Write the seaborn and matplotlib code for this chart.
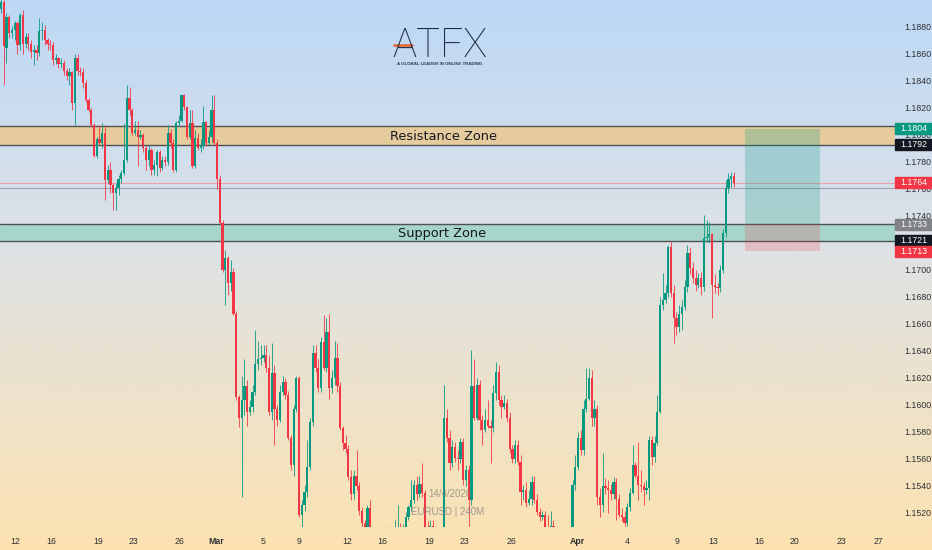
import numpy as np
import pandas as pd
import seaborn as sns
import matplotlib.pyplot as plt
import matplotlib.transforms as mtransforms
from matplotlib.colors import LinearSegmentedColormap
from matplotlib.patches import Rectangle
from matplotlib.lines import Line2D

# EURUSD 4h candles
opens = [
    1.1893, 1.1898, 1.1864, 1.1887, 1.1875, 1.1877, 1.1882, 1.1866, 1.1888, 1.1867,
    1.1872, 1.1867, 1.1861, 1.1862, 1.1860, 1.1876, 1.1877, 1.1870, 1.1867, 1.1866,
    1.1855, 1.1856, 1.1852, 1.1853, 1.1847, 1.1843, 1.1846, 1.1823, 1.1856, 1.1847,
    1.1846, 1.1838, 1.1825, 1.1818, 1.1807, 1.1784, 1.1796, 1.1793, 1.1801, 1.1766,
    1.1773, 1.1762, 1.1756, 1.1760, 1.1767, 1.1771, 1.1781, 1.1827, 1.1818, 1.1801,
    1.1803, 1.1798, 1.1799, 1.1790, 1.1781, 1.1788, 1.1773, 1.1777, 1.1787, 1.1775,
    1.1781, 1.1779, 1.1801, 1.1793, 1.1773, 1.1808, 1.1810, 1.1829, 1.1820, 1.1798,
    1.1808, 1.1776, 1.1797, 1.1790, 1.1792, 1.1809, 1.1793, 1.1798, 1.1818, 1.1793,
    1.1767, 1.1734, 1.1699, 1.1708, 1.1690, 1.1698, 1.1667, 1.1605, 1.1590, 1.1603,
    1.1613, 1.1594, 1.1598, 1.1609, 1.1630, 1.1633, 1.1634, 1.1636, 1.1627, 1.1594,
    1.1623, 1.1596, 1.1588, 1.1609, 1.1616, 1.1607, 1.1575, 1.1555, 1.1596, 1.1619,
    1.1518, 1.1525, 1.1535, 1.1553, 1.1587, 1.1638, 1.1627, 1.1612, 1.1646, 1.1627,
    1.1653, 1.1612, 1.1619, 1.1634, 1.1613, 1.1582, 1.1571, 1.1567, 1.1546, 1.1533,
    1.1547, 1.1539, 1.1521, 1.1512, 1.1505, 1.1523, 1.1503, 1.1496, 1.1501, 1.1492,
    1.1498, 1.1490, 1.1501, 1.1505, 1.1499, 1.1504, 1.1507, 1.1503, 1.1508, 1.1516,
    1.1524, 1.1529, 1.1540, 1.1533, 1.1541, 1.1534, 1.1509, 1.1507, 1.1510, 1.1505,
    1.1499, 1.1503, 1.1498, 1.1590, 1.1575, 1.1556, 1.1568, 1.1560, 1.1559, 1.1572,
    1.1544, 1.1551, 1.1529, 1.1613, 1.1590, 1.1614, 1.1588, 1.1581, 1.1588, 1.1584,
    1.1582, 1.1608, 1.1624, 1.1603, 1.1598, 1.1601, 1.1590, 1.1567, 1.1559, 1.1570,
    1.1557, 1.1535, 1.1536, 1.1527, 1.1530, 1.1542, 1.1529, 1.1520, 1.1516, 1.1518,
    1.1507, 1.1505, 1.1510, 1.1503, 1.1496, 1.1499, 1.1492, 1.1501, 1.1498, 1.1503,
    1.1540, 1.1553, 1.1575, 1.1566, 1.1596, 1.1604, 1.1619, 1.1590, 1.1596, 1.1531,
    1.1525, 1.1539, 1.1538, 1.1536, 1.1533, 1.1542, 1.1530, 1.1518, 1.1516, 1.1512,
    1.1524, 1.1534, 1.1555, 1.1547, 1.1540, 1.1539, 1.1536, 1.1538, 1.1573, 1.1561,
    1.1571, 1.1594, 1.1673, 1.1677, 1.1682, 1.1716, 1.1682, 1.1664, 1.1657, 1.1667,
    1.1672, 1.1687, 1.1712, 1.1701, 1.1693, 1.1688, 1.1693, 1.1687, 1.1723, 1.1724,
    1.1726, 1.1688, 1.1687, 1.1686, 1.1699, 1.1727, 1.1760, 1.1767, 1.1769,
]
highs = [
    1.1901, 1.1899, 1.1890, 1.1888, 1.1880, 1.1884, 1.1884, 1.1890, 1.1892, 1.1875,
    1.1875, 1.1870, 1.1866, 1.1866, 1.1886, 1.1883, 1.1881, 1.1871, 1.1870, 1.1868,
    1.1859, 1.1857, 1.1856, 1.1855, 1.1849, 1.1849, 1.1847, 1.1859, 1.1859, 1.1850,
    1.1849, 1.1840, 1.1827, 1.1819, 1.1808, 1.1798, 1.1807, 1.1808, 1.1807, 1.1777,
    1.1779, 1.1764, 1.1764, 1.1770, 1.1773, 1.1808, 1.1836, 1.1835, 1.1819, 1.1810,
    1.1810, 1.1803, 1.1801, 1.1792, 1.1792, 1.1790, 1.1781, 1.1788, 1.1788, 1.1784,
    1.1784, 1.1807, 1.1804, 1.1796, 1.1810, 1.1814, 1.1830, 1.1830, 1.1821, 1.1818,
    1.1818, 1.1803, 1.1801, 1.1796, 1.1821, 1.1810, 1.1803, 1.1829, 1.1829, 1.1796,
    1.1770, 1.1736, 1.1714, 1.1710, 1.1707, 1.1701, 1.1669, 1.1607, 1.1621, 1.1633,
    1.1618, 1.1603, 1.1614, 1.1655, 1.1647, 1.1644, 1.1644, 1.1644, 1.1636, 1.1645,
    1.1629, 1.1599, 1.1614, 1.1621, 1.1619, 1.1610, 1.1577, 1.1599, 1.1621, 1.1621,
    1.1529, 1.1540, 1.1573, 1.1590, 1.1644, 1.1644, 1.1633, 1.1650, 1.1666, 1.1664,
    1.1667, 1.1625, 1.1647, 1.1645, 1.1616, 1.1584, 1.1577, 1.1570, 1.1551, 1.1551,
    1.1566, 1.1542, 1.1524, 1.1514, 1.1525, 1.1529, 1.1508, 1.1507, 1.1504, 1.1503,
    1.1501, 1.1505, 1.1510, 1.1508, 1.1514, 1.1525, 1.1512, 1.1511, 1.1520, 1.1525,
    1.1544, 1.1544, 1.1547, 1.1547, 1.1556, 1.1536, 1.1513, 1.1514, 1.1514, 1.1508,
    1.1507, 1.1507, 1.1614, 1.1596, 1.1581, 1.1573, 1.1572, 1.1566, 1.1575, 1.1575,
    1.1555, 1.1555, 1.1640, 1.1633, 1.1619, 1.1618, 1.1592, 1.1596, 1.1603, 1.1588,
    1.1614, 1.1631, 1.1629, 1.1607, 1.1607, 1.1604, 1.1594, 1.1570, 1.1573, 1.1573,
    1.1562, 1.1540, 1.1542, 1.1536, 1.1547, 1.1547, 1.1533, 1.1523, 1.1521, 1.1521,
    1.1518, 1.1521, 1.1514, 1.1507, 1.1504, 1.1503, 1.1507, 1.1505, 1.1508, 1.1544,
    1.1562, 1.1579, 1.1581, 1.1603, 1.1627, 1.1627, 1.1625, 1.1603, 1.1599, 1.1538,
    1.1564, 1.1545, 1.1544, 1.1541, 1.1546, 1.1545, 1.1533, 1.1523, 1.1521, 1.1527,
    1.1538, 1.1570, 1.1557, 1.1572, 1.1551, 1.1542, 1.1544, 1.1576, 1.1576, 1.1576,
    1.1607, 1.1679, 1.1697, 1.1688, 1.1718, 1.1721, 1.1688, 1.1668, 1.1673, 1.1677,
    1.1692, 1.1718, 1.1716, 1.1705, 1.1699, 1.1697, 1.1698, 1.1740, 1.1736, 1.1735,
    1.1727, 1.1696, 1.1690, 1.1703, 1.1730, 1.1766, 1.1771, 1.1772, 1.1772,
]
lows = [
    1.1890, 1.1836, 1.1853, 1.1871, 1.1871, 1.1870, 1.1859, 1.1862, 1.1859, 1.1864,
    1.1862, 1.1856, 1.1851, 1.1855, 1.1858, 1.1870, 1.1866, 1.1862, 1.1862, 1.1851,
    1.1852, 1.1849, 1.1849, 1.1844, 1.1840, 1.1836, 1.1818, 1.1807, 1.1844, 1.1843,
    1.1834, 1.1824, 1.1816, 1.1805, 1.1783, 1.1782, 1.1792, 1.1790, 1.1751, 1.1764,
    1.1756, 1.1744, 1.1744, 1.1755, 1.1764, 1.1770, 1.1779, 1.1814, 1.1799, 1.1799,
    1.1776, 1.1796, 1.1787, 1.1773, 1.1776, 1.1770, 1.1770, 1.1769, 1.1772, 1.1773,
    1.1776, 1.1777, 1.1790, 1.1772, 1.1772, 1.1806, 1.1809, 1.1818, 1.1796, 1.1796,
    1.1775, 1.1775, 1.1788, 1.1787, 1.1789, 1.1791, 1.1792, 1.1794, 1.1792, 1.1759,
    1.1733, 1.1698, 1.1673, 1.1681, 1.1684, 1.1666, 1.1603, 1.1583, 1.1531, 1.1592,
    1.1584, 1.1592, 1.1594, 1.1607, 1.1625, 1.1629, 1.1631, 1.1624, 1.1592, 1.1588,
    1.1570, 1.1584, 1.1587, 1.1607, 1.1604, 1.1573, 1.1551, 1.1547, 1.1594, 1.1516,
    1.1509, 1.1521, 1.1531, 1.1551, 1.1584, 1.1624, 1.1609, 1.1609, 1.1625, 1.1624,
    1.1604, 1.1608, 1.1614, 1.1609, 1.1581, 1.1566, 1.1564, 1.1544, 1.1529, 1.1530,
    1.1536, 1.1518, 1.1509, 1.1503, 1.1503, 1.1499, 1.1492, 1.1490, 1.1487, 1.1490,
    1.1486, 1.1487, 1.1499, 1.1496, 1.1496, 1.1501, 1.1499, 1.1501, 1.1504, 1.1514,
    1.1521, 1.1527, 1.1529, 1.1531, 1.1531, 1.1507, 1.1503, 1.1504, 1.1499, 1.1496,
    1.1496, 1.1493, 1.1496, 1.1572, 1.1551, 1.1553, 1.1557, 1.1551, 1.1556, 1.1540,
    1.1539, 1.1507, 1.1525, 1.1588, 1.1588, 1.1581, 1.1570, 1.1579, 1.1582, 1.1556,
    1.1579, 1.1603, 1.1599, 1.1590, 1.1596, 1.1587, 1.1564, 1.1556, 1.1556, 1.1555,
    1.1525, 1.1529, 1.1524, 1.1525, 1.1525, 1.1527, 1.1518, 1.1513, 1.1514, 1.1504,
    1.1503, 1.1503, 1.1499, 1.1493, 1.1492, 1.1488, 1.1490, 1.1495, 1.1496, 1.1501,
    1.1536, 1.1551, 1.1562, 1.1562, 1.1594, 1.1603, 1.1584, 1.1584, 1.1525, 1.1516,
    1.1520, 1.1533, 1.1519, 1.1529, 1.1530, 1.1514, 1.1516, 1.1513, 1.1510, 1.1510,
    1.1521, 1.1533, 1.1545, 1.1529, 1.1535, 1.1525, 1.1533, 1.1529, 1.1555, 1.1557,
    1.1570, 1.1593, 1.1670, 1.1675, 1.1679, 1.1679, 1.1645, 1.1651, 1.1653, 1.1655,
    1.1670, 1.1683, 1.1696, 1.1690, 1.1684, 1.1686, 1.1681, 1.1684, 1.1720, 1.1719,
    1.1664, 1.1682, 1.1681, 1.1683, 1.1697, 1.1724, 1.1756, 1.1761, 1.1761,
]
closes = [
    1.1898, 1.1865, 1.1887, 1.1875, 1.1877, 1.1882, 1.1866, 1.1888, 1.1867, 1.1872,
    1.1867, 1.1861, 1.1862, 1.1860, 1.1876, 1.1877, 1.1870, 1.1867, 1.1866, 1.1855,
    1.1856, 1.1852, 1.1853, 1.1847, 1.1843, 1.1846, 1.1823, 1.1856, 1.1847, 1.1846,
    1.1838, 1.1825, 1.1818, 1.1807, 1.1784, 1.1796, 1.1793, 1.1801, 1.1766, 1.1773,
    1.1762, 1.1756, 1.1760, 1.1767, 1.1771, 1.1781, 1.1827, 1.1818, 1.1801, 1.1803,
    1.1798, 1.1799, 1.1790, 1.1781, 1.1788, 1.1773, 1.1777, 1.1787, 1.1775, 1.1781,
    1.1779, 1.1801, 1.1793, 1.1773, 1.1808, 1.1810, 1.1829, 1.1820, 1.1798, 1.1808,
    1.1776, 1.1797, 1.1790, 1.1792, 1.1809, 1.1793, 1.1798, 1.1818, 1.1793, 1.1767,
    1.1734, 1.1699, 1.1708, 1.1690, 1.1698, 1.1667, 1.1605, 1.1590, 1.1603, 1.1613,
    1.1594, 1.1598, 1.1609, 1.1630, 1.1633, 1.1634, 1.1636, 1.1627, 1.1594, 1.1623,
    1.1596, 1.1588, 1.1609, 1.1616, 1.1607, 1.1575, 1.1555, 1.1596, 1.1619, 1.1518,
    1.1525, 1.1535, 1.1553, 1.1587, 1.1638, 1.1627, 1.1612, 1.1646, 1.1627, 1.1653,
    1.1612, 1.1619, 1.1634, 1.1613, 1.1582, 1.1571, 1.1567, 1.1546, 1.1533, 1.1547,
    1.1539, 1.1521, 1.1512, 1.1505, 1.1523, 1.1503, 1.1496, 1.1501, 1.1492, 1.1498,
    1.1490, 1.1501, 1.1505, 1.1499, 1.1504, 1.1507, 1.1503, 1.1508, 1.1516, 1.1524,
    1.1529, 1.1540, 1.1533, 1.1541, 1.1534, 1.1509, 1.1507, 1.1510, 1.1505, 1.1499,
    1.1503, 1.1498, 1.1590, 1.1575, 1.1556, 1.1568, 1.1560, 1.1559, 1.1572, 1.1544,
    1.1551, 1.1529, 1.1613, 1.1590, 1.1614, 1.1588, 1.1581, 1.1588, 1.1584, 1.1582,
    1.1608, 1.1624, 1.1603, 1.1598, 1.1601, 1.1590, 1.1567, 1.1559, 1.1570, 1.1557,
    1.1535, 1.1536, 1.1527, 1.1530, 1.1542, 1.1529, 1.1520, 1.1516, 1.1518, 1.1507,
    1.1505, 1.1510, 1.1503, 1.1496, 1.1499, 1.1492, 1.1501, 1.1498, 1.1503, 1.1540,
    1.1553, 1.1575, 1.1566, 1.1596, 1.1604, 1.1619, 1.1590, 1.1596, 1.1531, 1.1525,
    1.1539, 1.1538, 1.1536, 1.1533, 1.1542, 1.1530, 1.1518, 1.1516, 1.1512, 1.1524,
    1.1534, 1.1555, 1.1547, 1.1540, 1.1539, 1.1536, 1.1538, 1.1573, 1.1561, 1.1571,
    1.1594, 1.1673, 1.1677, 1.1682, 1.1716, 1.1682, 1.1664, 1.1657, 1.1667, 1.1672,
    1.1687, 1.1712, 1.1701, 1.1693, 1.1688, 1.1693, 1.1687, 1.1723, 1.1724, 1.1726,
    1.1688, 1.1687, 1.1686, 1.1699, 1.1727, 1.1760, 1.1767, 1.1769, 1.1764,
]

# date ticks, in bar units (future part of the axis continues past the last bar)
date_tick_pos = [5.1, 18.3, 35.5, 48.3, 65.4, 78.6, 95.8, 109.0, 126.5, 139.3, 156.5,
                 169.3, 186.5, 210.6, 228.9, 247.2, 260.3, 277.1, 290.3, 307.5, 320.7]
date_tick_labels = ['12', '16', '19', '23', '26', 'Mar', '5', '9', '12', '16', '19',
                    '23', '26', 'Apr', '4', '9', '13', '16', '20', '23', '27']
price_ticks = [1.1520, 1.1540, 1.1560, 1.1580, 1.1600, 1.1620, 1.1640, 1.1660, 1.1680,
               1.1700, 1.1720, 1.1740, 1.1760, 1.1780, 1.1800, 1.1820, 1.1840, 1.1860, 1.1880]

resistance_zone = (1.1792, 1.1806)
support_zone = (1.1721, 1.1733)
last_price = 1.1764
prev_close_line = 1.1760
entry_price, target_price, stop_price = 1.1733, 1.1804, 1.1713
position_bars = (272.0, 299.5)

tag_values = [1.1804, 1.1792, 1.1764, 1.1733, 1.1721, 1.1713]
tag_colors = ['#089981', '#131722', '#f23645', '#808287', '#131722', '#f23645']

GREEN = '#089981'
RED = '#f23645'

sns.set_theme(style="white")
plt.rcParams['font.family'] = ['Liberation Sans', 'DejaVu Sans']

fig = plt.figure(figsize=(9.32, 5.5), dpi=100)

# gradient background over the whole figure
bg = fig.add_axes([0, 0, 1, 1], zorder=-10)
grad = LinearSegmentedColormap.from_list('tv_bg', [(0, '#bcd8f6'), (0.45, '#dee2e5'), (1, '#fde2b1')])
bg.imshow(np.linspace(0, 1, 256).reshape(-1, 1), aspect='auto', cmap=grad,
          extent=[0, 1, 0, 1], origin='upper')
bg.axis('off')

ax = fig.add_axes([0, 23 / 550, 895 / 932, 527 / 550])
ax.set_facecolor('none')

df = pd.DataFrame({'open': opens, 'high': highs, 'low': lows, 'close': closes})
df['bar'] = np.arange(len(df))
df['color'] = np.where(df['close'] >= df['open'], GREEN, RED)
body_bottom = df[['open', 'close']].min(axis=1)
body_height = (df['close'] - df['open']).abs().clip(lower=0.00006)

# zones
ax.axhspan(*resistance_zone, color='#e6cb9d', lw=0, zorder=1)
ax.axhspan(*support_zone, color='#a8d5ca', lw=0, zorder=1)
for lvl in list(resistance_zone) + list(support_zone):
    ax.axhline(lvl, color='#4f5255', lw=1.0, zorder=2)
ax.axhline(last_price, color='#eaa3ad', lw=0.8, zorder=2)
ax.axhline(prev_close_line, color='#9ba3ac', lw=0.8, zorder=2)

# candles
ax.vlines(df['bar'], df['low'], df['high'], colors=df['color'], lw=0.7, alpha=0.85, zorder=3)
ax.bar(df['bar'], body_height, bottom=body_bottom, width=0.82, color=df['color'],
       linewidth=0, zorder=4)

# long position box
ax.fill_between(list(position_bars), entry_price, target_price, color=GREEN, alpha=0.24, lw=0, zorder=2.5)
ax.fill_between(list(position_bars), stop_price, entry_price, color=RED, alpha=0.2, lw=0, zorder=2.5)

trans = mtransforms.blended_transform_factory(ax.transAxes, ax.transData)
ax.text(0.495, 1.17956, 'Resistance Zone', transform=trans, ha='center', va='baseline',
        fontsize=9.3, family='DejaVu Sans', color='#131722', zorder=6)
ax.text(0.494, 1.17236, 'Support Zone', transform=trans, ha='center', va='baseline',
        fontsize=9.3, family='DejaVu Sans', color='#131722', zorder=6)

ax.set_xlim(-0.37, 326.9)
ax.set_ylim(1.15089, 1.18993)

ax.set_xticks(date_tick_pos)
ax.set_xticklabels(date_tick_labels)
for lbl in ax.get_xticklabels():
    if lbl.get_text() in ('Mar', 'Apr'):
        lbl.set_fontweight('bold')
ax.yaxis.tick_right()
ax.set_yticks(price_ticks)
ax.set_yticklabels([f'{p:.4f}' for p in price_ticks])
ax.tick_params(axis='x', length=0, pad=7, labelsize=6.3, labelcolor='#2f3035')
ax.tick_params(axis='y', length=0, pad=7, labelsize=6.3, labelcolor='#2f3035')
ax.grid(False)
for s in ax.spines.values():
    s.set_visible(False)

# price tags on the scale
tag_w = 37 / 895
tag_h = 0.00080
for v, c in zip(tag_values, tag_colors):
    ax.add_patch(Rectangle((1.0, v - tag_h / 2), tag_w, tag_h, transform=trans, color=c,
                           clip_on=False, zorder=6))
    ax.text(1.0 + tag_w / 2, v, f'{v:.4f}', transform=trans, ha='center', va='center',
            color='white', fontsize=6.3, zorder=7, clip_on=False)

# logo
fig.text(440 / 932, 1 - 57 / 550, 'ATFX', ha='center', va='baseline', fontsize=29,
         family='Roboto', fontweight='light', color='#1c2b44')
fig.add_artist(Line2D([394 / 932, 412 / 932], [1 - 45 / 550, 1 - 45 / 550], color='#e8602c',
                      lw=1.8, transform=fig.transFigure))
fig.text(440 / 932, 1 - 64 / 550, 'A GLOBAL LEADER IN ONLINE TRADING', ha='center', va='center',
         fontsize=3.2, color='#2a3a55', fontweight='bold')

# watermark
fig.text(450 / 932, 1 - 494 / 550, '14/4/2026', ha='center', va='center', fontsize=7,
         color='#808080', alpha=0.75)
fig.text(448 / 932, 1 - 512 / 550, 'EURUSD | 240M', ha='center', va='center', fontsize=7,
         color='#808080', alpha=0.75)

fig.savefig('out.png', dpi=100)
